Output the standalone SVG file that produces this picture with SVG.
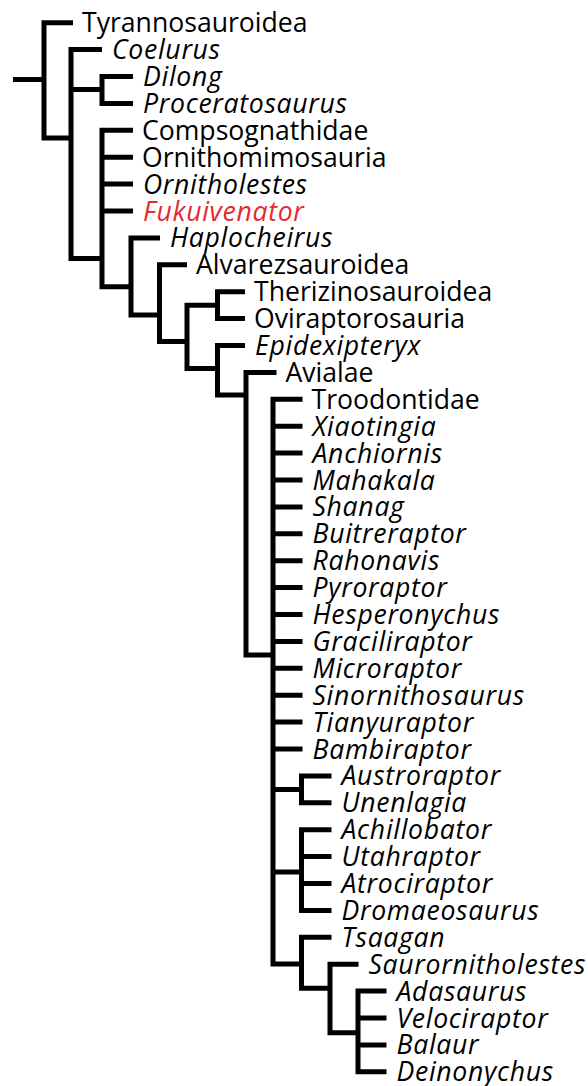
<svg xmlns="http://www.w3.org/2000/svg" width="588" height="1086" viewBox="0 0 588 1086">
<style>
.e{fill:none;stroke:#000;stroke-width:5;stroke-linejoin:miter;stroke-linecap:butt}
text{font-family:"Open Sans","Noto Sans","Liberation Sans",sans-serif;font-size:26.6px;fill:#000}
.i{font-style:italic;letter-spacing:0.7px}
.r{fill:#e32b2b}
</style>
<rect width="588" height="1086" fill="#fff"/>
<g id="connectors" class="e">
<path d="M13 79.5H44"/>
<path d="M73 22.7H44V138H71"/>
<path d="M102 49.6H71V258.5H102M71 89.5H102"/>
<path d="M133 76.5H102V103.4H133"/>
<path d="M133 130.3H102V286.7H131M102 157.2H133M102 184.1H133M102 211H133"/>
<path d="M160 237.9H131V315H159.5"/>
<path d="M187 264.8H159.5V341.5H187"/>
<path d="M217.5 305.2H187V368.5H217.5"/>
<path d="M245 291.7H217.5V318.6H245"/>
<path d="M245 345.5H217.5V395H246"/>
<path d="M276.5 372.4H246V655H273"/>
<path d="M302.5 399.3H273V964H301.5M273 426.2H302.5M273 453.1H302.5M273 480H302.5M273 506.9H302.5M273 533.8H302.5M273 560.7H302.5M273 587.6H302.5M273 614.5H302.5M273 641.4H302.5M273 668.3H302.5M273 695.2H302.5M273 722.1H302.5M273 749H302.5M273 789.4H301.5M273 872H301.5"/>
<path d="M331.5 775.9H301.5V802.8H331.5"/>
<path d="M331.5 829.7H301.5V910.4H331.5M301.5 856.6H331.5M301.5 883.5H331.5"/>
<path d="M331.5 937.3H301.5V988.3H330"/>
<path d="M358.5 964.2H330V1032.7H358"/>
<path d="M386.5 991.1H358V1071.8H386.5M358 1018H386.5M358 1044.9H386.5"/>
</g>
<g id="n1"><text x="82" y="32.2">Tyrannosauroidea</text></g>
<g id="n2"><text class="i" x="112" y="59.1">Coelurus</text></g>
<g id="n3"><text class="i" x="143" y="86">Dilong</text></g>
<g id="n4"><text class="i" x="143" y="112.9">Proceratosaurus</text></g>
<g id="n5"><text x="142" y="139.8">Compsognathidae</text></g>
<g id="n6"><text x="142" y="166.7">Ornithomimosauria</text></g>
<g id="n7"><text class="i" x="143" y="193.6">Ornitholestes</text></g>
<g id="n8"><text class="i r" x="143" y="220.5">Fukuivenator</text></g>
<g id="n9"><text class="i" x="170" y="247.4">Haplocheirus</text></g>
<g id="n10"><text x="196" y="274.3">Alvarezsauroidea</text></g>
<g id="n11"><text x="254" y="301.2">Therizinosauroidea</text></g>
<g id="n12"><text x="254" y="328.1">Oviraptorosauria</text></g>
<g id="n13"><text class="i" x="255" y="355">Epidexipteryx</text></g>
<g id="n14"><text x="285.5" y="381.9">Avialae</text></g>
<g id="n15"><text x="311.5" y="408.8">Troodontidae</text></g>
<g id="n16"><text class="i" x="312.5" y="435.7">Xiaotingia</text></g>
<g id="n17"><text class="i" x="312.5" y="462.6">Anchiornis</text></g>
<g id="n18"><text class="i" x="312.5" y="489.5">Mahakala</text></g>
<g id="n19"><text class="i" x="312.5" y="516.4">Shanag</text></g>
<g id="n20"><text class="i" x="312.5" y="543.3">Buitreraptor</text></g>
<g id="n21"><text class="i" x="312.5" y="570.2">Rahonavis</text></g>
<g id="n22"><text class="i" x="312.5" y="597.1">Pyroraptor</text></g>
<g id="n23"><text class="i" x="312.5" y="624">Hesperonychus</text></g>
<g id="n24"><text class="i" x="312.5" y="650.9">Graciliraptor</text></g>
<g id="n25"><text class="i" x="312.5" y="677.8">Microraptor</text></g>
<g id="n26"><text class="i" x="312.5" y="704.7">Sinornithosaurus</text></g>
<g id="n27"><text class="i" x="312.5" y="731.6">Tianyuraptor</text></g>
<g id="n28"><text class="i" x="312.5" y="758.5">Bambiraptor</text></g>
<g id="n29"><text class="i" x="341.5" y="785.4">Austroraptor</text></g>
<g id="n30"><text class="i" x="341.5" y="812.3">Unenlagia</text></g>
<g id="n31"><text class="i" x="341.5" y="839.2">Achillobator</text></g>
<g id="n32"><text class="i" x="341.5" y="866.1">Utahraptor</text></g>
<g id="n33"><text class="i" x="341.5" y="893">Atrociraptor</text></g>
<g id="n34"><text class="i" x="341.5" y="919.9">Dromaeosaurus</text></g>
<g id="n35"><text class="i" x="341.5" y="946.8">Tsaagan</text></g>
<g id="n36"><text class="i" x="368.5" y="973.7">Saurornitholestes</text></g>
<g id="n37"><text class="i" x="396.5" y="1000.6">Adasaurus</text></g>
<g id="n38"><text class="i" x="396.5" y="1027.5">Velociraptor</text></g>
<g id="n39"><text class="i" x="396.5" y="1054.4">Balaur</text></g>
<g id="n40"><text class="i" x="396.5" y="1081.3">Deinonychus</text></g>
</svg>
